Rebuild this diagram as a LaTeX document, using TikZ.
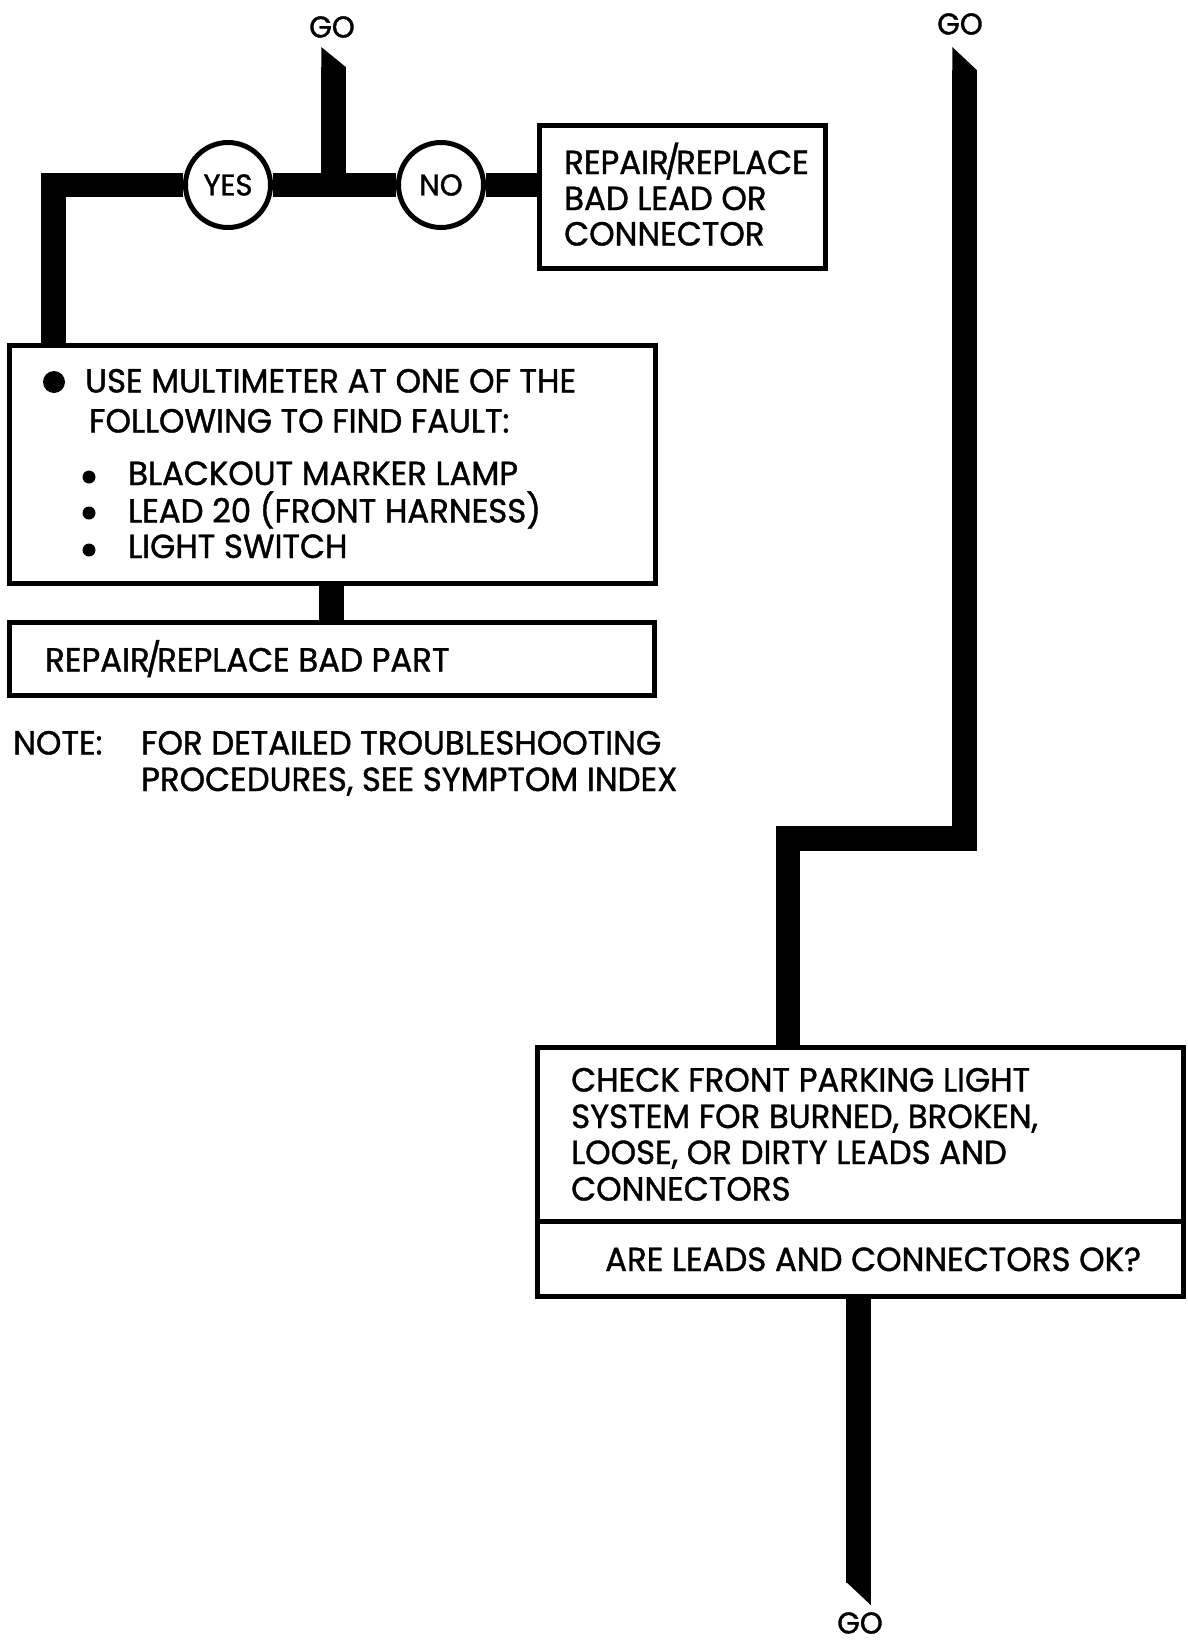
\documentclass[tikz,border=0pt]{standalone}
\usepackage{fontspec}
\setmainfont{Poppins}[FakeStretch=0.97,FakeBold=1.2]
\usetikzlibrary{backgrounds}
\newcommand{\slsh}{\kern-4pt/\kern-4pt}
\begin{document}
\begin{tikzpicture}[x=1pt,y=-1pt,
  bar/.style={line width=24.5pt, line join=miter, line cap=butt},
  boxst/.style={draw, line width=5pt, fill=white, inner sep=0pt, rectangle},
  ring/.style={circle, draw, line width=5pt, fill=white, minimum size=85pt, inner sep=0pt, font=\fontsize{30}{34}\selectfont},
  txt/.style={anchor=base west, inner sep=0pt, font=\fontsize{33.4}{38}\selectfont},
  golbl/.style={inner sep=0pt, font=\fontsize{30}{34}\selectfont},
  bigdot/.style={circle, fill, inner sep=0pt, minimum size=22pt},
  smalldot/.style={circle, fill, inner sep=0pt, minimum size=13pt}]
\useasboundingbox (0,0) rectangle (1188,1646);

% GO labels
\node[golbl] (go1) at (332,27) {GO};
\node[golbl] (go2) at (960,24) {GO};
\node[golbl] (go3) at (860,1623) {GO};

% decision circles
\node[ring] (yes) at (228,185) {YES};
\node[ring] (no) at (441,185) {NO};

% boxes
\node[boxst, minimum width=286pt, minimum height=143pt] (rep1) at (682.5,197) {};
\node[boxst, minimum width=646pt, minimum height=238pt] (mm) at (332.5,464.5) {};
\node[boxst, minimum width=645pt, minimum height=73pt] (part) at (332,659) {};
\node[boxst, minimum width=646pt, minimum height=249pt] (chk) at (860.5,1172) {};
\draw[line width=5pt] (chk.west |- 0,1221.5) -- (chk.east |- 0,1221.5);

% box texts
\node[txt] (t1) at (564,174) {REPAIR\slsh REPLACE};
\node[txt] (t2) at (564,210) {BAD LEAD OR};
\node[txt] (t3) at (564,245.5) {CONNECTOR};

\node[bigdot] (d0) at (54,382) {};
\node[txt] (m1) at (85,392.5) {USE MULTIMETER AT ONE OF THE};
\node[txt] (m2) at (89,432.5) {FOLLOWING TO FIND FAULT:};
\node[smalldot] (d1) at (89,477) {};
\node[smalldot] (d2) at (89,513) {};
\node[smalldot] (d3) at (89,550) {};
\node[txt] (m3) at (128,485) {BLACKOUT MARKER LAMP};
\node[txt] (m4) at (128,522.5) {LEAD 20 (FRONT HARNESS)};
\node[txt] (m5) at (128,558) {LIGHT SWITCH};

\node[txt] (p1) at (45,671.5) {REPAIR\slsh REPLACE BAD PART};

\node[txt] (n0) at (13,754.5) {NOTE:};
\node[txt] (n1) at (141,754.5) {FOR DETAILED TROUBLESHOOTING};
\node[txt] (n2) at (141,791) {PROCEDURES, SEE SYMPTOM INDEX};

\node[txt] (c1) at (571,1091.5) {CHECK FRONT PARKING LIGHT};
\node[txt] (c2) at (571,1128) {SYSTEM FOR BURNED, BROKEN,};
\node[txt] (c3) at (571,1164) {LOOSE, OR DIRTY LEADS AND};
\node[txt] (c4) at (571,1200.5) {CONNECTORS};
\node[txt] (c5) at (605,1271) {ARE LEADS AND CONNECTORS OK?};

% connectors
\coordinate (ga) at (333.5,67);
\coordinate (gb) at (964.5,70);
\coordinate (gc) at (858.5,1583);
\coordinate (k1) at (53.5,185);
\coordinate (k2) at (964.5,838.5);
\coordinate (k3) at (788,838.5);
\begin{scope}[on background layer]
  \fill (321.25,47) -- (345.75,67) -- (345.75,68) -- (321.25,68) -- cycle;
  \draw[bar] (ga) -- (ga |- yes);
  \draw[bar] (yes) -- (no);
  \draw[bar] (no) -- (rep1.west |- no);
  \draw[bar] (yes) -- (k1) -- (k1 |- mm.north);
  \draw[bar] (mm.south -| 331.5,0) -- (part.north -| 331.5,0);
  \fill (952.25,47) -- (976.75,70) -- (976.75,71) -- (952.25,71) -- cycle;
  \draw[bar] (gb) -- (k2) -- (k3) -- (k3 |- chk.north);
  \draw[bar] (chk.south -| gc) -- (gc);
  \fill (846.25,1582) -- (870.75,1582) -- (870.75,1605) -- cycle;
\end{scope}
\end{tikzpicture}
\end{document}
